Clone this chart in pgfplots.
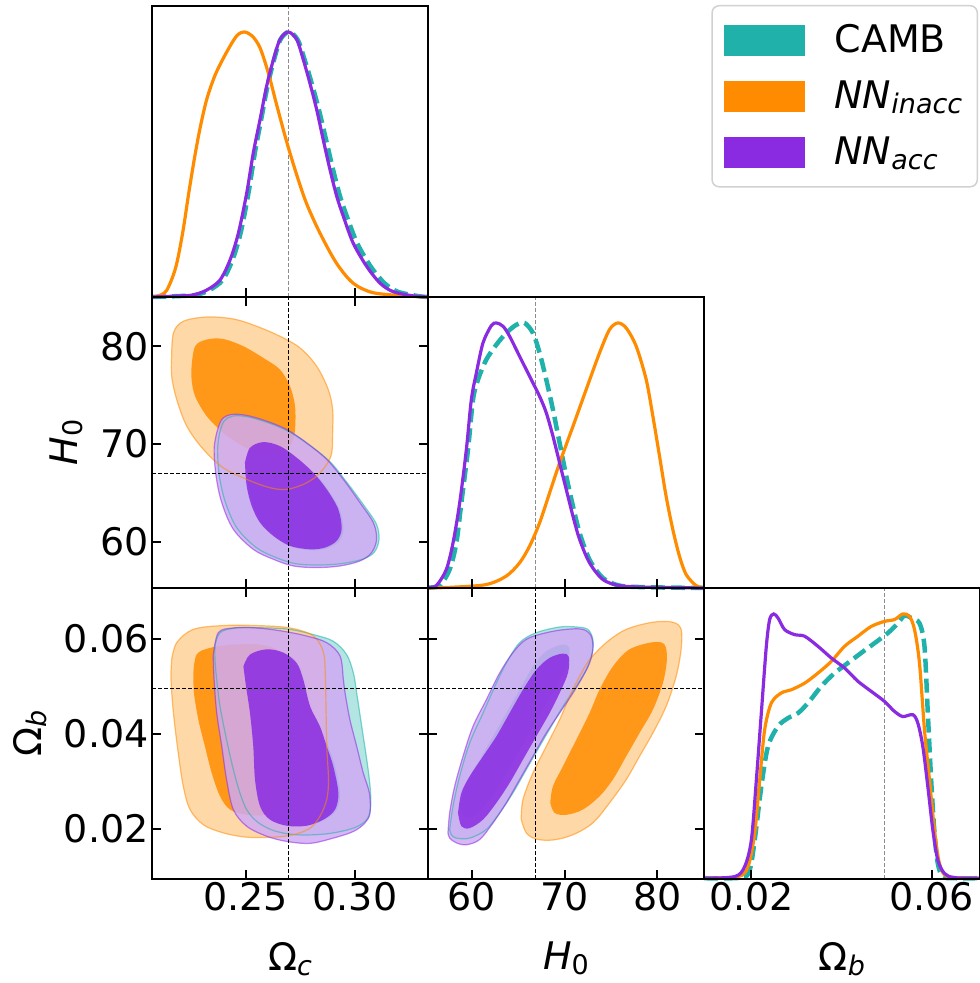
\documentclass[border=0pt]{standalone}
\usepackage{fontspec}
\setmainfont{DejaVu Sans}
\usepackage{pgfplots}
\usepackage{pgfplotstable}
\pgfplotsset{compat=1.18}
\definecolor{camb}{RGB}{32,178,170}
\definecolor{orng}{RGB}{255,140,0}
\definecolor{purp}{RGB}{138,43,226}
\newcommand{\subs}[1]{\raisebox{-5pt}{\fontsize{27}{27}\selectfont #1}}
\newcommand{\bigfont}{\fontsize{38}{44}\selectfont}

% ---------- Omega_c vs H0 ----------
\pgfplotstableread{
x y
0.2380 71.0
0.2400 72.3
0.2440 72.85
0.2505 72.8
0.2600 72.2
0.2695 71.3
0.2790 69.9
0.2885 68.2
0.2962 66.1
0.3038 63.8
0.3098 61.8
0.3110 60.2
0.3088 58.9
0.3035 58.2
0.2940 57.75
0.2830 57.6
0.2725 57.75
0.2635 58.4
0.2548 59.4
0.2460 61.4
0.2408 64.0
0.2380 66.7
0.2372 69.4
0.2380 71.0
}\AcO
\pgfplotstableread{
x y
0.2505 68.0
0.2528 69.5
0.2589 70.1
0.2665 69.7
0.2742 68.5
0.2818 66.95
0.2879 65.25
0.2932 63.2
0.2947 61.15
0.2924 59.95
0.2871 59.3
0.2803 59.1
0.2711 59.45
0.2635 60.5
0.2574 61.85
0.2536 63.55
0.2513 65.6
0.2505 68.0
}\AcI
\pgfplotstableread{
x y
0.2162 78.98
0.2170 81.37
0.2215 82.56
0.2322 83.00
0.2444 82.80
0.2551 82.05
0.2657 81.03
0.2749 79.83
0.2825 77.96
0.2878 75.57
0.2898 73.53
0.2898 71.14
0.2894 69.10
0.2871 67.90
0.2825 66.71
0.2764 65.86
0.2688 65.35
0.2611 65.52
0.2505 66.37
0.2398 67.56
0.2307 69.44
0.2231 71.82
0.2185 74.55
0.2162 76.94
0.2162 78.98
}\AoO
\pgfplotstableread{
x y
0.2253 77.96
0.2269 80.00
0.2322 80.69
0.2398 80.75
0.2490 80.00
0.2581 78.81
0.2657 77.62
0.2703 75.91
0.2726 73.87
0.2726 71.48
0.2711 70.12
0.2673 69.10
0.2611 68.86
0.2551 69.10
0.2474 69.95
0.2398 71.14
0.2322 72.85
0.2269 74.89
0.2253 76.60
0.2253 77.96
}\AoI
\pgfplotstableread{
x y
0.2368 71.14
0.2391 72.51
0.2436 73.02
0.2505 72.92
0.2596 72.34
0.2688 71.48
0.2779 70.12
0.2871 68.42
0.2947 66.37
0.3023 63.99
0.3084 61.94
0.3099 60.24
0.3076 58.87
0.3023 58.02
0.2932 57.51
0.2825 57.34
0.2718 57.51
0.2627 58.19
0.2535 59.21
0.2444 61.26
0.2391 63.99
0.2365 66.71
0.2356 69.44
0.2368 71.14
}\ApO
\pgfplotstableread{
x y
0.2497 68.08
0.2520 69.61
0.2581 70.19
0.2657 69.78
0.2734 68.59
0.2810 67.05
0.2871 65.35
0.2924 63.30
0.2939 61.26
0.2916 60.07
0.2863 59.39
0.2795 59.21
0.2703 59.56
0.2627 60.58
0.2566 61.94
0.2528 63.65
0.2505 65.69
0.2497 68.08
}\ApI

% ---------- Omega_c vs Omega_b ----------
\pgfplotstableread{
x y
0.2360 0.0585
0.2383 0.0613
0.2459 0.0623
0.2596 0.0623
0.2703 0.0620
0.2810 0.0609
0.2901 0.0595
0.2962 0.0567
0.2993 0.0528
0.3008 0.0486
0.3031 0.0416
0.3054 0.0346
0.3069 0.0290
0.3072 0.0248
0.3054 0.0220
0.2993 0.0202
0.2871 0.0190
0.2734 0.0188
0.2627 0.0197
0.2551 0.0216
0.2505 0.0241
0.2474 0.0276
0.2444 0.0325
0.2413 0.0388
0.2383 0.0458
0.2368 0.0514
0.2360 0.0556
0.2360 0.0585
}\BcO
\pgfplotstableread{
x y
0.2498 0.0542
0.2528 0.0567
0.2604 0.0578
0.2681 0.0571
0.2742 0.0549
0.2772 0.0514
0.2803 0.0458
0.2848 0.0416
0.2879 0.0374
0.2909 0.0332
0.2932 0.0276
0.2917 0.0241
0.2864 0.0220
0.2787 0.0207
0.2696 0.0207
0.2619 0.0220
0.2574 0.0248
0.2551 0.0304
0.2543 0.0374
0.2528 0.0444
0.2510 0.0500
0.2498 0.0542
}\BcI
\pgfplotstableread{
x y
0.2162 0.0556
0.2185 0.0592
0.2261 0.0620
0.2398 0.0628
0.2551 0.0628
0.2703 0.0623
0.2810 0.0606
0.2856 0.0571
0.2865 0.0514
0.2868 0.0444
0.2871 0.0374
0.2879 0.0304
0.2871 0.0262
0.2840 0.0227
0.2795 0.0202
0.2718 0.0188
0.2627 0.0183
0.2505 0.0183
0.2398 0.0192
0.2307 0.0209
0.2246 0.0241
0.2215 0.0290
0.2192 0.0360
0.2170 0.0444
0.2159 0.0514
0.2162 0.0556
}\BoO
\pgfplotstableread{
x y
0.2261 0.0528
0.2276 0.0567
0.2337 0.0581
0.2444 0.0588
0.2566 0.0588
0.2657 0.0574
0.2688 0.0542
0.2695 0.0479
0.2695 0.0409
0.2695 0.0339
0.2695 0.0276
0.2673 0.0241
0.2596 0.0230
0.2505 0.0230
0.2429 0.0241
0.2383 0.0269
0.2345 0.0318
0.2314 0.0374
0.2284 0.0430
0.2264 0.0486
0.2261 0.0528
}\BoI
\pgfplotstableread{
x y
0.2352 0.0564
0.2375 0.0613
0.2444 0.0623
0.2551 0.0623
0.2673 0.0616
0.2779 0.0606
0.2871 0.0592
0.2932 0.0564
0.2947 0.0514
0.2955 0.0486
0.2977 0.0430
0.3008 0.0374
0.3038 0.0318
0.3066 0.0276
0.3069 0.0234
0.3046 0.0213
0.2993 0.0195
0.2901 0.0181
0.2795 0.0170
0.2688 0.0174
0.2596 0.0185
0.2505 0.0206
0.2444 0.0241
0.2413 0.0304
0.2391 0.0374
0.2368 0.0444
0.2356 0.0514
0.2352 0.0564
}\BpO
\pgfplotstableread{
x y
0.2490 0.0542
0.2520 0.0567
0.2596 0.0578
0.2673 0.0571
0.2734 0.0549
0.2764 0.0514
0.2795 0.0458
0.2840 0.0416
0.2871 0.0374
0.2901 0.0332
0.2924 0.0276
0.2909 0.0241
0.2856 0.0220
0.2779 0.0207
0.2688 0.0207
0.2611 0.0220
0.2566 0.0248
0.2543 0.0304
0.2535 0.0374
0.2520 0.0444
0.2502 0.0500
0.2490 0.0542
}\BpI

% ---------- H0 vs Omega_b ----------
\pgfplotstableread{
x y
57.59 0.0199
57.95 0.0248
58.67 0.0311
59.75 0.0381
61.19 0.0444
62.63 0.0507
63.70 0.0549
65.14 0.0592
66.94 0.0613
69.46 0.0625
71.26 0.0625
72.51 0.0620
73.05 0.0599
72.98 0.0571
72.33 0.0535
71.26 0.0500
69.82 0.0458
68.56 0.0416
67.30 0.0374
65.86 0.0325
64.42 0.0276
62.98 0.0234
61.55 0.0199
59.75 0.0181
58.31 0.0181
57.77 0.0188
57.59 0.0199
}\CcO
\pgfplotstableread{
x y
58.67 0.0248
59.39 0.0297
60.83 0.0346
62.27 0.0395
63.70 0.0444
65.14 0.0493
66.58 0.0542
68.02 0.0574
69.82 0.0588
70.54 0.0578
70.18 0.0542
69.10 0.0500
67.66 0.0451
66.22 0.0402
64.78 0.0353
63.34 0.0304
61.91 0.0262
60.47 0.0230
59.21 0.0223
58.67 0.0248
}\CcI
\pgfplotstableread{
x y
65.32 0.0220
65.50 0.0262
66.58 0.0318
68.02 0.0374
69.46 0.0430
70.54 0.0479
71.62 0.0521
72.69 0.0556
74.49 0.0592
76.65 0.0620
79.53 0.0635
81.68 0.0635
82.58 0.0620
82.58 0.0578
82.04 0.0521
80.96 0.0458
79.53 0.0402
78.09 0.0353
76.65 0.0304
74.85 0.0255
73.05 0.0213
70.90 0.0188
68.74 0.0177
66.94 0.0179
65.86 0.0192
65.32 0.0220
}\CoO
\pgfplotstableread{
x y
68.45 0.0255
68.74 0.0290
69.82 0.0332
71.26 0.0388
72.69 0.0444
73.77 0.0493
75.21 0.0542
77.01 0.0578
79.53 0.0593
80.79 0.0588
81.04 0.0556
80.61 0.0507
79.53 0.0451
78.09 0.0402
76.65 0.0353
75.21 0.0304
73.77 0.0269
71.97 0.0241
70.18 0.0230
68.92 0.0234
68.45 0.0255
}\CoI
\pgfplotstableread{
x y
57.41 0.0192
57.59 0.0234
58.13 0.0290
59.03 0.0353
60.11 0.0416
61.55 0.0472
62.98 0.0528
64.42 0.0571
65.86 0.0599
68.02 0.0613
70.18 0.0620
71.97 0.0620
72.87 0.0606
73.05 0.0578
72.69 0.0549
71.97 0.0521
70.90 0.0486
69.46 0.0444
68.02 0.0402
66.58 0.0353
65.14 0.0304
63.70 0.0255
62.27 0.0213
60.83 0.0178
59.39 0.0167
58.31 0.0171
57.59 0.0181
57.41 0.0192
}\CpO
\pgfplotstableread{
x y
58.49 0.0234
58.85 0.0276
59.75 0.0311
61.19 0.0353
62.63 0.0395
64.06 0.0444
65.50 0.0493
66.94 0.0535
68.38 0.0560
69.82 0.0569
70.46 0.0562
70.36 0.0528
69.46 0.0486
68.38 0.0444
66.94 0.0395
65.50 0.0346
64.06 0.0297
62.63 0.0255
61.19 0.0220
59.75 0.0202
58.85 0.0206
58.49 0.0234
}\CpI

\pgfplotsset{
  cp/.style={scale only axis, width=276pt, height=291pt, axis on top,
    scaled ticks=false,
    axis line style={line width=2pt}, tick align=inside, major tick length=9pt,
    every tick/.style={black, line width=1.8pt},
    tick label style={font=\bigfont},
    every axis x label/.style={at={(axis description cs:0.5,-0.274)}, anchor=center, font=\bigfont, inner sep=1pt}},
  yl/.style={every axis y label/.style={at={(axis description cs:#1,0.5)}, rotate=90, anchor=center, font=\bigfont, inner sep=1pt}},
  oned/.style={cp, ymin=0, ymax=1.098, ytick=\empty, xtick pos=left, clip=false},
  omc/.style={xmin=0.2072, xmax=0.3334, xtick={0.25,0.30}},
  hx/.style={xmin=55.25, xmax=85.05, xtick={60,70,80}},
  hy/.style={ymin=55.25, ymax=85.05, ytick={60,70,80}},
  omby/.style={ymin=0.0095, ymax=0.0707, ytick={0.02,0.04,0.06}},
  ombx/.style={xmin=0.0095, xmax=0.0707, xtick={0.02,0.06}},
  fo/.style={fill=#1!40!white, fill opacity=0.85, draw=none, smooth, tension=0.55},
  fi/.style={fill=#1, fill opacity=0.85, draw=none, smooth, tension=0.55},
  eo/.style={draw=#1, draw opacity=0.55, line width=1.2pt, fill=none, smooth, tension=0.55},
  truth/.style={black, line width=1pt, dash pattern=on 4pt off 2pt},
  truthg/.style={black!45, line width=1pt, dash pattern=on 4pt off 2pt},
  curve/.style={#1, line width=3.2pt, smooth, tension=0.5},
  dcurve/.style={camb, line width=4.5pt, dash pattern=on 14pt off 6pt, smooth, tension=0.5},
}

\begin{document}
\begin{tikzpicture}
\useasboundingbox (0pt,0pt) rectangle (980pt,983pt);

% ===== top-left: Omega_c 1D =====
\begin{axis}[oned, omc, at={(152pt,686pt)}, anchor=south west, xticklabels={,,},
  legend cell align=left,
  legend style={at={(axis description cs:2.9928,1.0034)}, anchor=north east,
    draw=black!18, line width=1.5pt, rounded corners=7pt, font=\bigfont,
    inner xsep=12pt, inner ysep=13pt, row sep=13pt,
    nodes={inner sep=3pt, text height=31pt, text depth=6pt},
    /tikz/every odd column/.append style={column sep=27pt}}]
\addlegendimage{legend image code/.code={\fill[camb, sharp corners] (0pt,-15pt) rectangle (79pt,15pt);}}
\addlegendentry{CAMB}
\addlegendimage{legend image code/.code={\fill[orng, sharp corners] (0pt,-15pt) rectangle (79pt,15pt);}}
\addlegendentry{{\itshape NN}\subs{\itshape inacc}}
\addlegendimage{legend image code/.code={\fill[purp, sharp corners] (0pt,-15pt) rectangle (79pt,15pt);}}
\addlegendentry{{\itshape NN}\subs{\itshape acc}}
\addplot[truthg, forget plot] coordinates {(0.2695,0) (0.2695,1.098)};
\addplot[dcurve, forget plot] coordinates {(0.2072,0) (0.2210,0.004) (0.2275,0.008) (0.2335,0.026) (0.2395,0.064) (0.2440,0.140) (0.2477,0.241) (0.2513,0.392) (0.2542,0.543) (0.2571,0.669) (0.2600,0.795) (0.2630,0.895) (0.2659,0.971) (0.2697,1.0) (0.2738,0.971) (0.2770,0.895) (0.2802,0.807) (0.2835,0.707) (0.2868,0.593) (0.2900,0.480) (0.2932,0.379) (0.2963,0.304) (0.3010,0.203) (0.3072,0.115) (0.3135,0.052) (0.3195,0.020) (0.3285,0.004) (0.3334,0)};
\addplot[curve=orng, forget plot] coordinates {(0.2072,0) (0.2100,0.004) (0.2139,0.025) (0.2180,0.110) (0.2212,0.241) (0.2240,0.392) (0.2265,0.518) (0.2290,0.630) (0.2322,0.745) (0.2362,0.840) (0.2414,0.925) (0.2459,0.985) (0.2493,1.0) (0.2530,0.985) (0.2566,0.940) (0.2604,0.845) (0.2642,0.725) (0.2688,0.585) (0.2734,0.460) (0.2779,0.352) (0.2840,0.241) (0.2916,0.127) (0.2992,0.052) (0.3084,0.016) (0.3237,0.004) (0.3334,0)};
\addplot[curve=purp, forget plot] coordinates {(0.2072,0) (0.2200,0.004) (0.2261,0.008) (0.2322,0.026) (0.2383,0.064) (0.2429,0.140) (0.2467,0.241) (0.2505,0.392) (0.2535,0.543) (0.2566,0.669) (0.2596,0.795) (0.2627,0.895) (0.2657,0.971) (0.2695,1.0) (0.2734,0.971) (0.2764,0.895) (0.2794,0.807) (0.2825,0.707) (0.2855,0.593) (0.2886,0.480) (0.2917,0.379) (0.2947,0.304) (0.2992,0.203) (0.3054,0.115) (0.3115,0.052) (0.3175,0.020) (0.3267,0.004) (0.3334,0)};
\end{axis}

% ===== middle-left: Omega_c vs H0 =====
\begin{axis}[cp, omc, hy, at={(152pt,395pt)}, anchor=south west,
  xticklabels={,,}, yticklabels={60,70,80},
  ylabel={{\itshape H}\subs{0}}, yl=-0.31]
\addplot[fo=camb] table {\AcO} --cycle;
\addplot[fi=camb] table {\AcI} --cycle;
\addplot[fo=orng] table {\AoO} --cycle;
\addplot[fi=orng] table {\AoI} --cycle;
\addplot[fo=purp] table {\ApO} --cycle;
\addplot[fi=purp] table {\ApI} --cycle;
\addplot[eo=camb] table {\AcO} --cycle;
\addplot[eo=orng] table {\AoO} --cycle;
\addplot[eo=purp] table {\ApO} --cycle;
\addplot[truth] coordinates {(0.2695,55.25) (0.2695,85.05)};
\addplot[truth] coordinates {(0.2072,66.93) (0.3334,66.93)};
\end{axis}

% ===== middle: H0 1D =====
\begin{axis}[oned, hx, at={(428pt,395pt)}, anchor=south west, xticklabels={,,}]
\addplot[truthg] coordinates {(66.87,0) (66.87,1.098)};
\addplot[dcurve] coordinates {(55.25,0.002) (56.51,0.009) (57.59,0.070) (58.31,0.170) (58.85,0.321) (59.57,0.522) (60.11,0.711) (60.65,0.786) (61.55,0.862) (62.63,0.918) (63.70,0.962) (64.78,0.993) (65.68,1.0) (66.58,0.962) (67.30,0.887) (68.02,0.786) (68.74,0.673) (69.46,0.547) (70.18,0.422) (70.90,0.309) (71.62,0.208) (72.69,0.107) (74.13,0.038) (75.93,0.009) (78.81,0.003) (85.05,0)};
\addplot[curve=orng] coordinates {(55.25,0) (57.95,0.003) (61.55,0.013) (63.70,0.045) (65.14,0.095) (66.22,0.158) (67.30,0.246) (68.38,0.359) (69.46,0.472) (70.90,0.610) (72.33,0.749) (73.77,0.887) (74.85,0.975) (75.75,1.0) (76.65,0.981) (77.73,0.912) (78.81,0.786) (79.53,0.648) (80.25,0.497) (80.96,0.346) (81.68,0.221) (82.40,0.120) (83.12,0.051) (84.20,0.009) (85.05,0.001)};
\addplot[curve=purp] coordinates {(55.25,0.002) (56.15,0.009) (57.23,0.070) (57.95,0.170) (58.67,0.321) (59.39,0.522) (59.93,0.711) (60.47,0.811) (61.19,0.925) (62.09,0.990) (62.63,1.0) (63.34,0.988) (64.06,0.950) (65.14,0.874) (66.22,0.799) (67.30,0.723) (68.02,0.661) (68.74,0.573) (69.46,0.472) (70.18,0.371) (70.90,0.271) (71.62,0.183) (72.69,0.095) (74.13,0.032) (75.93,0.009) (78.81,0.003) (85.05,0)};
\end{axis}

% ===== bottom-left: Omega_c vs Omega_b =====
\begin{axis}[cp, omc, omby, at={(152pt,104pt)}, anchor=south west,
  xticklabels={0.25,0.30}, yticklabels={0.02,0.04,0.06},
  xlabel={Ω\subs{\itshape c}}, ylabel={Ω\subs{\itshape b}}, yl=-0.442]
\addplot[fo=camb] table {\BcO} --cycle;
\addplot[fi=camb] table {\BcI} --cycle;
\addplot[fo=orng] table {\BoO} --cycle;
\addplot[fi=orng] table {\BoI} --cycle;
\addplot[fo=purp] table {\BpO} --cycle;
\addplot[fi=purp] table {\BpI} --cycle;
\addplot[eo=camb] table {\BcO} --cycle;
\addplot[eo=orng] table {\BoO} --cycle;
\addplot[eo=purp] table {\BpO} --cycle;
\addplot[truth] coordinates {(0.2695,0.0095) (0.2695,0.0707)};
\addplot[truth] coordinates {(0.2072,0.0495) (0.3334,0.0495)};
\end{axis}

% ===== bottom-middle: H0 vs Omega_b =====
\begin{axis}[cp, hx, omby, at={(428pt,104pt)}, anchor=south west,
  xticklabels={60,70,80}, yticklabels={,,},
  xlabel={{\itshape H}\subs{0}}]
\addplot[fo=camb] table {\CcO} --cycle;
\addplot[fi=camb] table {\CcI} --cycle;
\addplot[fo=orng] table {\CoO} --cycle;
\addplot[fi=orng] table {\CoI} --cycle;
\addplot[fo=purp] table {\CpO} --cycle;
\addplot[fi=purp] table {\CpI} --cycle;
\addplot[eo=camb] table {\CcO} --cycle;
\addplot[eo=orng] table {\CoO} --cycle;
\addplot[eo=purp] table {\CpO} --cycle;
\addplot[truth] coordinates {(66.87,0.0095) (66.87,0.0707)};
\addplot[truth] coordinates {(55.25,0.0495) (85.05,0.0495)};
\end{axis}

% ===== bottom-right: Omega_b 1D =====
\begin{axis}[oned, ombx, at={(704pt,104pt)}, anchor=south west,
  xticklabels={0.02,0.06}, xlabel={Ω\subs{\itshape b}}]
\addplot[truthg] coordinates {(0.0495,0) (0.0495,1.098)};
\addplot[dcurve] coordinates {(0.0095,0.003) (0.01778,0.005) (0.01963,0.034) (0.02074,0.147) (0.02221,0.349) (0.02369,0.500) (0.02591,0.576) (0.02812,0.607) (0.03034,0.626) (0.03255,0.664) (0.03550,0.727) (0.03846,0.777) (0.04141,0.815) (0.04436,0.853) (0.04732,0.890) (0.05027,0.928) (0.05249,0.965) (0.05396,0.994) (0.05544,0.985) (0.05728,0.965) (0.05839,0.878) (0.05913,0.626) (0.05987,0.374) (0.06061,0.173) (0.06134,0.059) (0.06245,0.009) (0.06504,0.003) (0.0707,0.003)};
\addplot[curve=orng] coordinates {(0.0095,0.003) (0.01705,0.009) (0.01926,0.047) (0.02074,0.173) (0.02185,0.374) (0.02295,0.563) (0.02443,0.664) (0.02664,0.702) (0.02886,0.714) (0.03181,0.739) (0.03477,0.777) (0.03772,0.821) (0.04067,0.878) (0.04363,0.916) (0.04658,0.953) (0.04953,0.972) (0.05175,0.979) (0.05359,1.0) (0.05507,0.991) (0.05618,0.941) (0.05728,0.815) (0.05839,0.563) (0.05950,0.374) (0.06061,0.185) (0.06171,0.059) (0.06356,0.009) (0.0707,0.003)};
\addplot[curve=purp] coordinates {(0.0095,0.003) (0.01631,0.009) (0.01852,0.047) (0.0200,0.147) (0.02111,0.374) (0.02221,0.626) (0.02332,0.878) (0.02406,0.979) (0.02495,1.0) (0.02591,0.985) (0.02738,0.941) (0.02960,0.922) (0.03181,0.916) (0.03477,0.878) (0.03772,0.834) (0.04067,0.796) (0.04363,0.746) (0.04658,0.708) (0.04953,0.670) (0.05175,0.632) (0.05359,0.613) (0.05581,0.620) (0.05692,0.588) (0.05802,0.500) (0.05913,0.349) (0.06024,0.185) (0.06134,0.072) (0.06282,0.021) (0.06504,0.005) (0.0707,0.003)};
\end{axis}
\end{tikzpicture}
\end{document}
